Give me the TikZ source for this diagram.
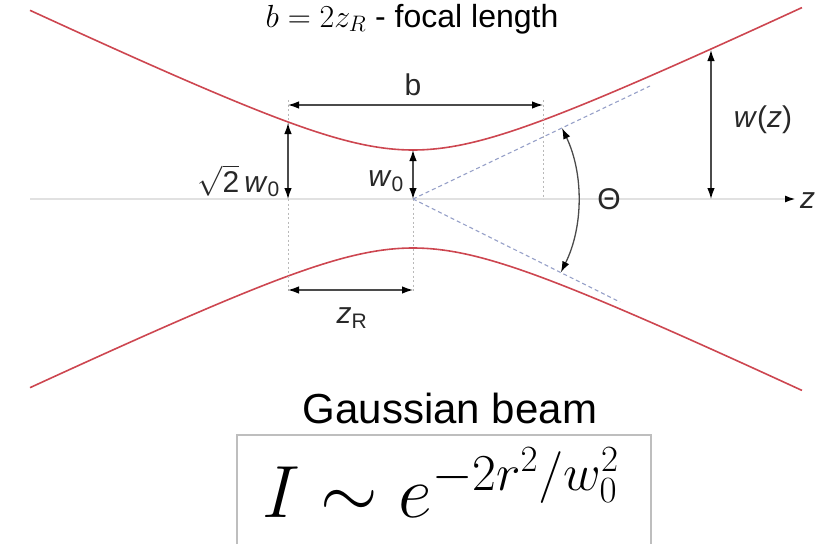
\RequirePackage{fix-cm}
\documentclass[tikz,border=0pt]{standalone}
\usepackage[no-math]{fontspec}
\setmainfont{Liberation Sans}
\usetikzlibrary{arrows.meta}

\definecolor{beamred}{RGB}{205,70,80}
\definecolor{raygray}{RGB}{150,160,200}
\definecolor{guidegray}{RGB}{185,185,185}
\definecolor{axisgray}{RGB}{225,225,225}
\definecolor{dimgray}{RGB}{75,75,75}
\definecolor{labelgray}{RGB}{40,40,40}
\definecolor{boxgray}{RGB}{190,190,190}

\tikzset{
  beam/.style={beamred, line width=1.6pt},
  dimline/.style={dimgray, line width=1.3pt,
    {Latex[length=11pt,width=7.5pt,color=black]}-{Latex[length=11pt,width=7.5pt,color=black]}},
  guide/.style={guidegray, line width=0.9pt, dash pattern=on 2pt off 2.5pt},
  ray/.style={raygray, line width=1.1pt, dash pattern=on 4pt off 3pt},
  lbl/.style={labelgray, font=\fontsize{30}{30}\selectfont, inner sep=0pt},
}

\begin{document}
\begin{tikzpicture}[x=1pt, y=-1pt]
    \useasboundingbox (0,0) rectangle (833,544);
    % Ось
    \draw[axisgray, line width=2pt, -{Latex[length=11pt,width=7pt,color=black]}] (30,199) -- (796,199);
    \node[lbl, anchor=west] (zlbl) at (800,201) {\textit{z}};
    % Пучок
    \draw[beam] plot[domain=-383:389, samples=120, smooth] ({413+\x}, {199-49*sqrt(1+(\x/103)^2)});
    \draw[beam] plot[domain=-383:389, samples=120, smooth] ({413+\x}, {199+49*sqrt(1+(\x/103)^2)});
    % Направляющие
    \coordinate (waist) at (413,199);
    \draw[guide] (288,100) -- (288,293);
    \draw[guide] (waist) -- (413,293);
    \draw[guide] (543,100) -- (543,199);
    % Лучи
    \draw[ray] (waist) -- (650,86);
    \draw[ray] (waist) -- (620,302);
    % Размеры
    \draw[dimline] (288,105) -- (543,105);
    \node[lbl] (blbl) at (413,85) {b};
    \draw[dimline] (288,123) -- (288,199);
    \node[lbl, anchor=east] (sqlbl) at (280,181) {$\sqrt{\mbox{2}}$\,\textit{w}\textsubscript{0}};
    \draw[dimline] (413,150) -- (waist);
    \node[lbl, anchor=east] (w0lbl) at (404,181) {\textit{w}\textsubscript{0}};
    \draw[dimline] (288,290) -- (413,290);
    \node[lbl] (zRlbl) at (352,318) {\textit{z}\textsubscript{R}};
    \draw[dimline] (711,50) -- (711,199);
    \node[lbl] (wzlbl) at (763,120) {\textit{w}(\textit{z})};
    \draw[dimline] (562,128) arc[start angle=25.5, end angle=-26.4, radius=165pt];
    \node[lbl] (thlbl) at (609,199) {Θ};
    % Подписи
    \node[anchor=base, font=\fontsize{32}{32}\selectfont] (title) at (412,27) {$b = 2z_R$ - focal length};
    \node[anchor=base, font=\fontsize{42}{42}\selectfont] (gauss) at (450,423) {Gaussian beam};
    \draw[boxgray, line width=1.2pt] (237,544) -- (237,435) -- (651,435) -- (651,544);
    \node[anchor=base west, font=\fontsize{74}{74}\selectfont, inner sep=0pt] (formula) at (262,517) {$I \sim e^{-2r^2/w_0^2}$};
\end{tikzpicture}
\end{document}
